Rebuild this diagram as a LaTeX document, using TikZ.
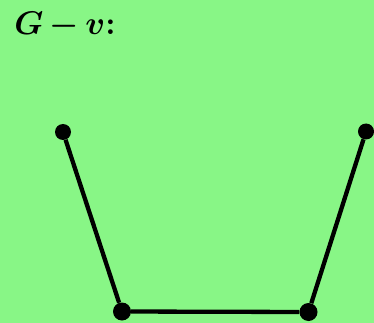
\documentclass[tikz,border=0pt]{standalone}
\definecolor{fondo}{RGB}{136,246,134}
\tikzset{
  vertice/.style={circle,fill=black,draw=none,inner sep=0pt,minimum size=16pt},
  titulo/.style={anchor=base west,inner sep=0pt,scale=1.9,font={\LARGE\bfseries\boldmath}}
}
\begin{document}
\begin{tikzpicture}[x=1pt,y=-1pt]
  \fill[fondo] (0,0) rectangle (374,323);
  \useasboundingbox (0,0) rectangle (374,323);
  % Vértices G-v
  \node[vertice] (v1) at (63,132) {};
  \node[vertice, minimum size=18pt] (v2) at (122,311.5) {};
  \node[vertice, minimum size=18pt] (v3) at (308.5,312) {};
  \node[vertice] (v4) at (366,131.5) {};

  % Aristas G-v
  \foreach \from/\to in {v1/v2, v2/v3, v3/v4}
    \draw[line width=4.3pt] (\from) -- (\to);

  % Título
  \node[titulo] (t) at (14,35) {$G{\,-\,}v$:};
\end{tikzpicture}
\end{document}
